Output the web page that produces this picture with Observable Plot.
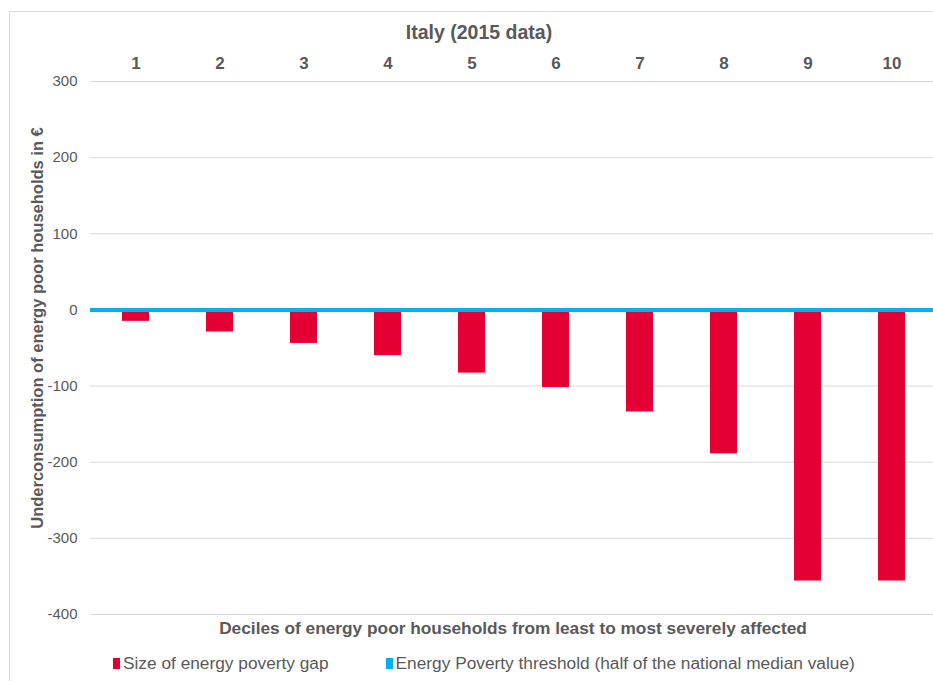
<!DOCTYPE html>
<html>
<head>
<meta charset="utf-8">
<script src="https://cdn.jsdelivr.net/npm/d3@7"></script>
<script src="https://cdn.jsdelivr.net/npm/@observablehq/plot@0.6"></script>
<style>
  html, body { margin: 0; padding: 0; background: #fff; overflow: hidden; }
  body { font-family: "Liberation Sans", Arial, sans-serif; color: #595959; }
  #wrap { position: relative; width: 933px; height: 681px; overflow: hidden; }
  #frame { position: absolute; left: 9px; top: 11px; width: 940px; height: 700px; border: 1px solid #d9d9d9; box-sizing: border-box; }
  #title { position: absolute; left: 0; width: 958px; top: 21px; text-align: center; font-weight: bold; font-size: 19.5px; }
  #chart { position: absolute; left: 0; top: 40px; width: 946px; }
  #chart svg { max-width: none !important; }
  #ylab { position: absolute; left: 37px; top: 328px; transform: translate(-50%, -50%) rotate(-90deg); white-space: nowrap; font-weight: bold; font-size: 16.5px; }
  #xlab { position: absolute; left: 0; width: 1026px; top: 618px; text-align: center; font-weight: bold; font-size: 17.3px; }
  #legend { position: absolute; top: 653px; left: 113px; font-size: 17.3px; display: flex; align-items: center; white-space: nowrap; }
  .sw { display: inline-block; width: 7px; height: 11px; margin-right: 3px; }
  .item { display: flex; align-items: center; margin-right: 57px; }
</style>
</head>
<body>
<div id="wrap">
  <div id="frame"></div>
  <div id="title">Italy (2015 data)</div>
  <div id="chart"></div>
  <div id="ylab">Underconsumption of energy poor households in €</div>
  <div id="xlab">Deciles of energy poor households from least to most severely affected</div>
  <div id="legend"></div>
</div>
<script>
const deciles = ["1", "2", "3", "4", "5", "6", "7", "8", "9", "10"];
const gapValues = [-15, -29, -44, -60, -83, -102, -134, -189, -356, -356];
const thresholdValue = [0];
const yTicks = [-400, -300, -200, -100, 0, 100, 200, 300];
const seriesNames = ["Size of energy poverty gap", "Energy Poverty threshold (half of the national median value)"];
const seriesColors = ["#E40032", "#00B0F0"];

const data = deciles.map((d, i) => ({decile: d, value: gapValues[i]}));

const chart = Plot.plot({
  width: 946,
  height: 590,
  marginLeft: 90,
  marginRight: 10,
  marginTop: 41,
  marginBottom: 16,
  style: {fontFamily: "'Liberation Sans', Arial, sans-serif", color: "#595959", background: "transparent", maxWidth: "none"},
  x: {domain: deciles, paddingInner: 0.68, paddingOuter: 0.34, axis: null},
  y: {domain: [-400, 300], axis: null},
  marks: [
    Plot.gridY(yTicks, {stroke: "#d9d9d9", strokeOpacity: 1, strokeWidth: 1}),
    Plot.axisY(yTicks, {tickSize: 0, tickPadding: 13, fontSize: 15, fill: "#595959", label: null, tickFormat: d => d}),
    Plot.axisX({anchor: "top", tickSize: 0, tickPadding: 13, fontSize: 17, fontWeight: "bold", fill: "#595959", label: null}),
    Plot.barY(data, {x: "decile", y: "value", fill: seriesColors[0]}),
    Plot.ruleY(thresholdValue, {stroke: seriesColors[1], strokeWidth: 4})
  ]
});
document.getElementById("chart").appendChild(chart);

const legend = document.getElementById("legend");
seriesNames.forEach((n, i) => {
  const it = document.createElement("div");
  it.className = "item";
  const sw = document.createElement("span");
  sw.className = "sw";
  sw.style.background = seriesColors[i];
  it.appendChild(sw);
  it.appendChild(document.createTextNode(n));
  legend.appendChild(it);
});
</script>
</body>
</html>
